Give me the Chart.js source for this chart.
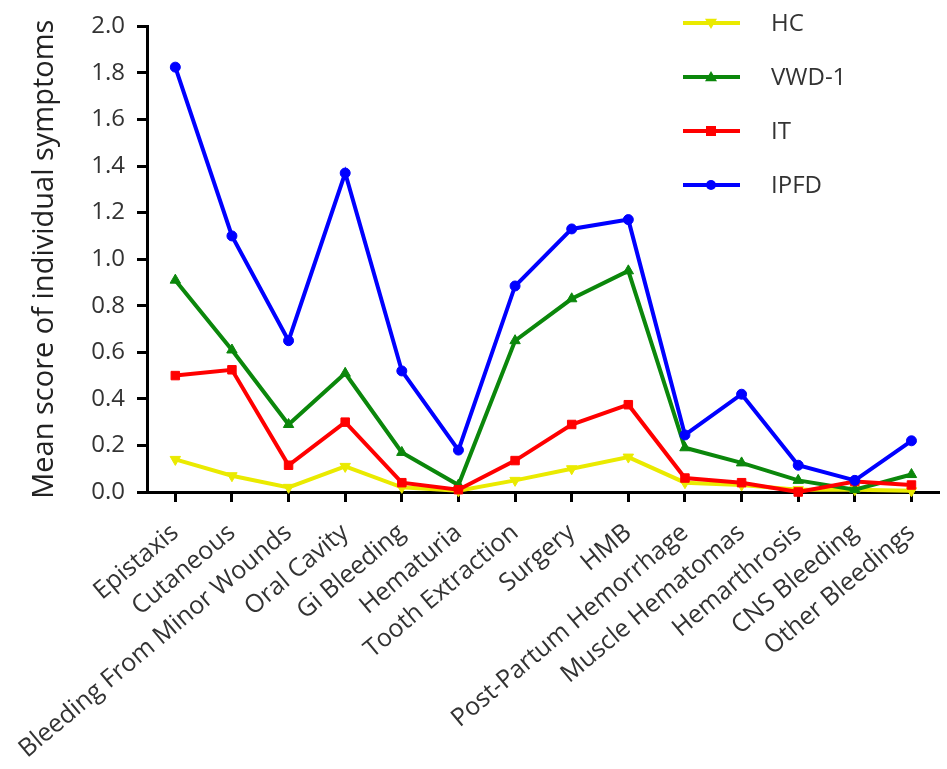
<!DOCTYPE html>
<html>
<head>
<meta charset="utf-8">
<script src="https://cdn.jsdelivr.net/npm/chart.js@4"></script>
<style>
    html, body { margin: 0; padding: 0; background: #fff; }
    #wrap { width: 947px; height: 769px; position: relative; }
</style>
</head>
<body>
<div id="wrap"><canvas id="symptomChart"></canvas></div>
<script>
// Mean score of individual bleeding symptoms per group
const categories = [
    'Epistaxis', 'Cutaneous', 'Bleeding From Minor Wounds', 'Oral Cavity', 'Gi Bleeding',
    'Hematuria', 'Tooth Extraction', 'Surgery', 'HMB', 'Post-Partum Hemorrhage',
    'Muscle Hematomas', 'Hemarthrosis', 'CNS Bleeding', 'Other Bleedings'
];
const hcScores    = [0.14, 0.07, 0.02, 0.11, 0.02, 0.005, 0.05, 0.10, 0.15, 0.04, 0.03, 0.01, 0.01, 0.005];
const vwdScores   = [0.91, 0.61, 0.29, 0.51, 0.17, 0.03, 0.65, 0.83, 0.95, 0.19, 0.125, 0.05, 0.01, 0.075];
const itScores    = [0.50, 0.525, 0.115, 0.30, 0.04, 0.01, 0.135, 0.29, 0.375, 0.06, 0.04, 0.0, 0.045, 0.03];
const ipfdScores  = [1.825, 1.10, 0.65, 1.37, 0.52, 0.18, 0.885, 1.13, 1.17, 0.245, 0.42, 0.115, 0.05, 0.22];
const yTicks = [0, 0.2, 0.4, 0.6, 0.8, 1.0, 1.2, 1.4, 1.6, 1.8, 2.0];

const FONT = '"Open Sans", "Noto Sans", sans-serif';

function series(label, data, color, pointStyle, rotation, order) {
    return {
        label: label, data: data,
        borderColor: color, backgroundColor: color,
        borderWidth: 4, tension: 0, fill: false,
        pointStyle: pointStyle, pointRotation: rotation,
        pointRadius: pointStyle === 'circle' ? 5 : 6,
        pointBorderWidth: 1,
        order: order, clip: false
    };
}

// legend drawn inside the plot area, top right
const insideLegend = {
    id: 'insideLegend',
    afterDraw(chart) {
        const ctx = chart.ctx;
        const items = chart.data.datasets.slice().sort((a, b) => b.order - a.order);
        ctx.save();
        items.forEach((ds, i) => {
            const y = 23 + i * 54;
            ctx.strokeStyle = ds.borderColor;
            ctx.lineWidth = 4;
            ctx.beginPath();
            ctx.moveTo(683, y);
            ctx.lineTo(740, y);
            ctx.stroke();
            ctx.fillStyle = ds.borderColor;
            drawMarker(ctx, ds.pointStyle, ds.pointRotation, 711, y, 6);
            ctx.fillStyle = '#333';
            ctx.font = '24px ' + FONT;
            ctx.textBaseline = 'middle';
            ctx.textAlign = 'left';
            ctx.fillText(ds.label, 771, y + 1);
        });
        ctx.restore();
    }
};

function drawMarker(ctx, style, rot, x, y, r) {
    ctx.beginPath();
    if (style === 'circle') {
        ctx.arc(x, y, r - 1, 0, Math.PI * 2);
    } else if (style === 'rect') {
        ctx.rect(x - r + 1, y - r + 1, 2 * r - 2, 2 * r - 2);
    } else {
        const s = rot === 180 ? -1 : 1;
        ctx.moveTo(x, y - s * r);
        ctx.lineTo(x + r, y + s * r * 0.7);
        ctx.lineTo(x - r, y + s * r * 0.7);
        ctx.closePath();
    }
    ctx.fill();
}

new Chart(document.getElementById('symptomChart').getContext('2d'), {
    type: 'line',
    data: {
        labels: categories,
        datasets: [
            series('HC', hcScores, '#eaea00', 'triangle', 180, 3),
            series('VWD-1', vwdScores, '#0b870b', 'triangle', 0, 2),
            series('IT', itScores, '#ff0000', 'rect', 0, 1),
            series('IPFD', ipfdScores, '#0000ff', 'circle', 0, 0)
        ]
    },
    options: {
        responsive: true, maintainAspectRatio: false,
        animation: false,
        layout: { padding: { top: 24, right: 0, left: 0, bottom: 0 } },
        plugins: { legend: { display: false }, tooltip: { enabled: false } },
        scales: {
            x: {
                offset: true,
                grid: { drawOnChartArea: false, drawTicks: true, tickLength: 10, tickWidth: 3, tickColor: '#000', offset: false },
                border: { display: true, width: 3, color: '#000' },
                ticks: {
                    color: '#333', font: { family: FONT, size: 25 },
                    minRotation: 40, maxRotation: 40, autoSkip: false, padding: 16
                },
                afterFit: s => { s.height = 277; }
            },
            y: {
                min: 0, max: 2,
                afterBuildTicks: s => { s.ticks = yTicks.map(v => ({ value: v })); },
                grid: { drawOnChartArea: false, drawTicks: true, tickLength: 10, tickWidth: 3, tickColor: '#000' },
                border: { display: true, width: 3, color: '#000' },
                ticks: {
                    color: '#333', font: { family: FONT, size: 24 }, padding: 12,
                    callback: v => Number(v).toFixed(1)
                },
                title: {
                    display: true, text: 'Mean score of individual symptoms',
                    color: '#222', font: { family: FONT, size: 29 }, padding: { top: 27, bottom: 0 }
                },
                afterFit: s => { s.width = 147; }
            }
        }
    },
    plugins: [insideLegend]
});
</script>
</body>
</html>
